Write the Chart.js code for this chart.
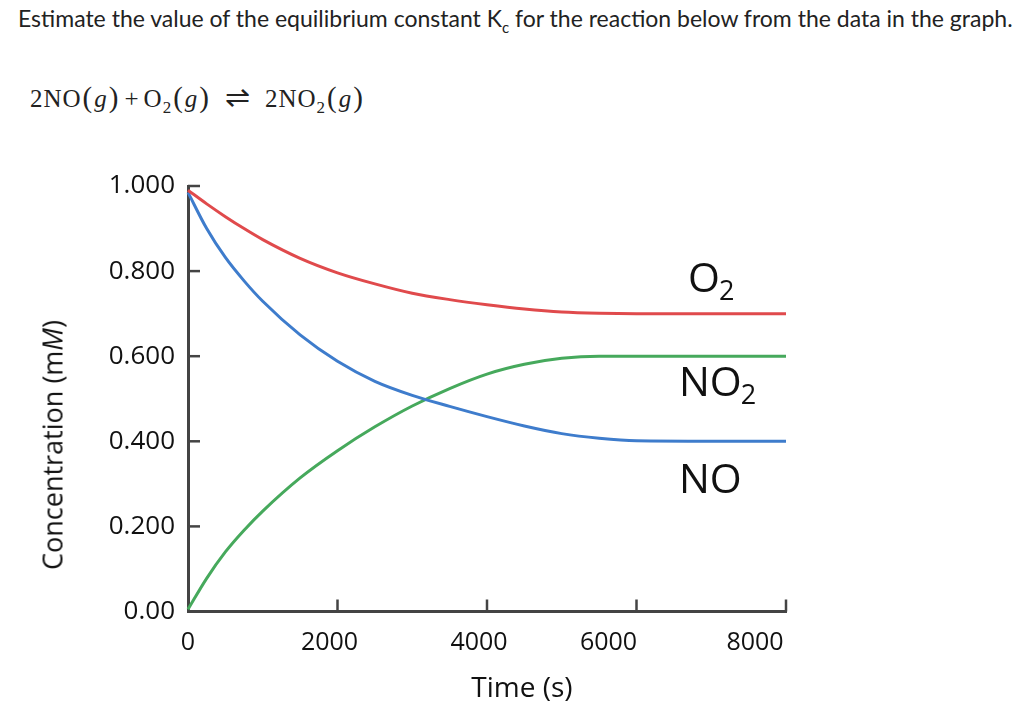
<!DOCTYPE html>
<html>
<head>
<meta charset="utf-8">
<script src="https://cdn.jsdelivr.net/npm/chart.js@4/dist/chart.umd.min.js"></script>
<style>
  body { margin: 0; background: #fff; width: 1024px; height: 718px; overflow: hidden; position: relative; }
  #question { position: absolute; left: 18px; top: 4px; font-family: Lato, sans-serif; font-size: 23px; color: #222; white-space: nowrap; }
  #question sub { font-size: 15px; }
  #equation { position: absolute; left: 30px; top: 79px; font-family: "Liberation Serif", serif; font-size: 25px; letter-spacing: 1px; color: #222; white-space: nowrap; }
  #equation sub { font-size: 17px; }
  #equation .p { font-size: 29px; margin: 0 1px; }
  #equation .op { margin: 0 4px; }
  #equation .arr { margin: 0 14px; font-size: 30px; }
  #ytitle { position: absolute; left: 52px; top: 445px; transform: translate(-50%, -50%) rotate(-90deg); font-family: "Open Sans", sans-serif; font-size: 27px; color: #111; white-space: nowrap; }
  #xtitle { position: absolute; left: 522px; top: 686px; transform: translate(-50%, -50%); font-family: "Open Sans", sans-serif; font-size: 28px; color: #111; white-space: nowrap; }
  #wrap { position: absolute; left: 0; top: 150px; }
</style>
</head>
<body>
<div id="question">Estimate the value of the equilibrium constant K<sub>c</sub> for the reaction below from the data in the graph.</div>
<div id="equation">2NO<span class="p">(</span><i>g</i><span class="p">)</span><span class="op">+</span>O<sub>2</sub><span class="p">(</span><i>g</i><span class="p">)</span><span class="arr">&#x21CC;</span>2NO<sub>2</sub><span class="p">(</span><i>g</i><span class="p">)</span></div>
<div id="wrap"><canvas id="chart" width="1024" height="568"></canvas></div>
<div id="ytitle">Concentration (m<i>M</i>)</div>
<div id="xtitle">Time (s)</div>

<script>
// time points (s)
var times = [0, 250, 500, 750, 1000, 1500, 2000, 2500, 3000, 3500, 4000, 4500, 5000, 5500, 6000, 7000, 8000];
// concentrations (mM)
var o2  = [0.990, 0.958, 0.928, 0.900, 0.874, 0.830, 0.796, 0.770, 0.748, 0.733, 0.721, 0.711, 0.704, 0.701, 0.700, 0.700, 0.700];
var no  = [0.985, 0.900, 0.832, 0.777, 0.729, 0.650, 0.588, 0.541, 0.508, 0.482, 0.458, 0.436, 0.418, 0.407, 0.401, 0.400, 0.400];
var no2 = [0.005, 0.078, 0.140, 0.191, 0.236, 0.314, 0.378, 0.434, 0.483, 0.524, 0.558, 0.581, 0.595, 0.600, 0.600, 0.600, 0.600];

var yTickLabels = ['0.00', '0.200', '0.400', '0.600', '0.800', '1.000'];
var xTickLabels = ['0', '2000', '4000', '6000', '8000'];

var seriesNames = ['O2', 'NO', 'NO2'];
var seriesColors = ['#e04a4c', '#3e7ccc', '#46a95c'];

function toPoints(arr) {
  return arr.map(function(v, i) { return { x: times[i], y: v }; });
}

// curve labels drawn inside the plot, anchored with the scales
var curveLabels = [
  { main: 'O', sub: '2', t: 6716, v: 0.752 },
  { main: 'NO', sub: '2', t: 6595, v: 0.507 },
  { main: 'NO', sub: '', t: 6595, v: 0.279 }
];

var xShift = [0, -8, -8, -28, -31];

var axisDecor = {
  id: 'axisDecor',
  afterDraw: function(chart) {
    var ctx = chart.ctx;
    var xs = chart.scales.x, ys = chart.scales.y;
    var area = chart.chartArea;
    ctx.save();
    // inward tick marks
    ctx.strokeStyle = '#444';
    ctx.lineWidth = 2.5;
    ys.ticks.forEach(function(t) {
      if (t.value === 0) return;
      var py = ys.getPixelForValue(t.value);
      ctx.beginPath();
      ctx.moveTo(area.left, py);
      ctx.lineTo(area.left + 12, py);
      ctx.stroke();
    });
    xs.ticks.forEach(function(t) {
      if (t.value === 0) return;
      var px = xs.getPixelForValue(t.value);
      ctx.beginPath();
      ctx.moveTo(px, area.bottom);
      ctx.lineTo(px, area.bottom - 12);
      ctx.stroke();
    });
    // x tick labels
    ctx.fillStyle = '#111';
    ctx.font = '25px "Open Sans"';
    ctx.textAlign = 'center';
    ctx.textBaseline = 'middle';
    xs.ticks.forEach(function(t, i) {
      var px = xs.getPixelForValue(t.value) + xShift[i];
      ctx.fillText(xTickLabels[i], px, area.bottom + 31);
    });
    // curve labels
    ctx.textAlign = 'left';
    ctx.textBaseline = 'alphabetic';
    curveLabels.forEach(function(l) {
      var px = xs.getPixelForValue(l.t);
      var py = ys.getPixelForValue(l.v);
      ctx.font = '41px "Open Sans"';
      ctx.fillText(l.main, px - 2, py);
      var w = ctx.measureText(l.main).width;
      if (l.sub) {
        ctx.font = '27px "Open Sans"';
        ctx.fillText(l.sub, px + w - 3, py + 8);
      }
    });
    ctx.restore();
  }
};

var chart = new Chart(document.getElementById('chart'), {
  type: 'line',
  data: {
    datasets: [0, 1, 2].map(function(i) {
      return {
        label: seriesNames[i],
        data: toPoints([o2, no, no2][i]),
        borderColor: seriesColors[i],
        borderWidth: 3,
        pointRadius: 0,
        cubicInterpolationMode: 'monotone',
        fill: false,
        clip: false
      };
    })
  },
  options: {
    responsive: false,
    animation: false,
    layout: { padding: { top: 36, right: 238, left: 0, bottom: 0 } },
    plugins: { legend: { display: false }, tooltip: { enabled: false } },
    scales: {
      x: {
        type: 'linear',
        min: 0,
        max: 8000,
        afterFit: function(s) { s.height = 106.5; },
        grid: { display: false },
        border: { display: true, color: '#444', width: 3 },
        ticks: { display: false, stepSize: 2000 }
      },
      y: {
        min: 0,
        max: 1,
        afterFit: function(s) { s.width = 188; },
        grid: { display: false },
        border: { display: true, color: '#444', width: 3 },
        ticks: {
          stepSize: 0.2,
          padding: 5,
          color: '#111',
          font: { family: 'Open Sans', size: 26 },
          callback: function(v, i) { return yTickLabels[i]; }
        }
      }
    }
  },
  plugins: [axisDecor]
});
</script>
</body>
</html>
